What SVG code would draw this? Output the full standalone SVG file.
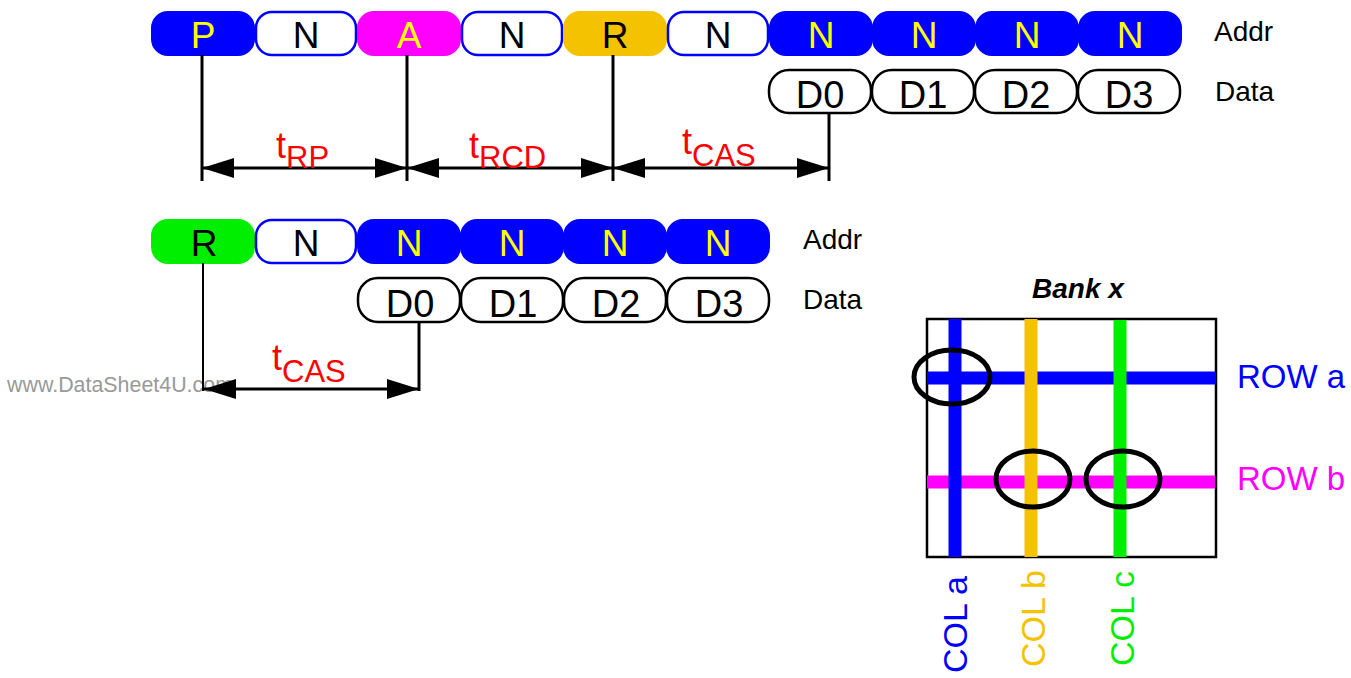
<svg xmlns="http://www.w3.org/2000/svg" width="1351" height="678" viewBox="0 0 1351 678">
<defs>
<style>
text{font-family:"Liberation Sans",Arial,sans-serif}
.pb{fill:#0000ff;stroke:#0000ff;stroke-width:2}
.pw{fill:#ffffff;stroke:#0000ff;stroke-width:2.5}
.pm{fill:#ff00ff;stroke:#ff00ff;stroke-width:2}
.po{fill:#f5c200;stroke:#f5c200;stroke-width:2}
.pg{fill:#00ee00;stroke:#00ee00;stroke-width:2}
.pd{fill:#ffffff;stroke:#000000;stroke-width:2.5}
.ta{font-size:37px;text-anchor:middle}
.td{font-size:38px;text-anchor:middle;fill:#000}
.y{fill:#ffff00}
.k{fill:#000000}
.lbl{font-size:28px;fill:#000}
.tl{fill:#ff0000;font-size:36px}
.sub{font-size:31px}
.ln{stroke:#000;stroke-width:3;fill:none}
.ar{stroke:#000;stroke-width:3;fill:none;marker-start:url(#ah);marker-end:url(#ah)}
.ell{fill:none;stroke:#000;stroke-width:5}
.col{font-size:34px}
</style>
<marker id="ah" viewBox="0 0 32 20" refX="32" refY="10" markerWidth="32" markerHeight="20" markerUnits="userSpaceOnUse" orient="auto-start-reverse">
<path d="M0,0 L32,10 L0,20 Z" fill="#000"/>
</marker>
</defs>

<text x="7" y="392" font-size="22" fill="#999999" textLength="226" lengthAdjust="spacingAndGlyphs">www.DataSheet4U.com</text>

<!-- Top address row -->
<g id="a1-p"><rect class="pb" x="152" y="12" width="102" height="43" rx="16"/><text class="ta y" x="203" y="48">P</text></g>
<g id="a1-n1"><rect class="pw" x="256" y="12" width="100" height="43" rx="16"/><text class="ta k" x="306" y="48">N</text></g>
<g id="a1-a"><rect class="pm" x="358" y="12" width="102" height="43" rx="16"/><text class="ta y" x="409" y="48">A</text></g>
<g id="a1-n2"><rect class="pw" x="462" y="12" width="100" height="43" rx="16"/><text class="ta k" x="512" y="48">N</text></g>
<g id="a1-r"><rect class="po" x="564" y="12" width="102" height="43" rx="16"/><text class="ta k" x="615" y="48">R</text></g>
<g id="a1-n3"><rect class="pw" x="668" y="12" width="100" height="43" rx="16"/><text class="ta k" x="718" y="48">N</text></g>
<g id="a1-n4"><rect class="pb" x="770" y="12" width="102" height="43" rx="16"/><text class="ta y" x="821" y="48">N</text></g>
<g id="a1-n5"><rect class="pb" x="873" y="12" width="102" height="43" rx="16"/><text class="ta y" x="924" y="48">N</text></g>
<g id="a1-n6"><rect class="pb" x="976" y="12" width="102" height="43" rx="16"/><text class="ta y" x="1027" y="48">N</text></g>
<g id="a1-n7"><rect class="pb" x="1079" y="12" width="102" height="43" rx="16"/><text class="ta y" x="1130" y="48">N</text></g>
<g id="lbl-addr1"><text class="lbl" x="1214" y="41">Addr</text></g>

<!-- Top data row -->
<g id="d1-0"><rect class="pd" x="769" y="70" width="102" height="43" rx="20"/><text class="td" x="820" y="108">D0</text></g>
<g id="d1-1"><rect class="pd" x="872" y="70" width="102" height="43" rx="20"/><text class="td" x="923" y="108">D1</text></g>
<g id="d1-2"><rect class="pd" x="975" y="70" width="102" height="43" rx="20"/><text class="td" x="1026" y="108">D2</text></g>
<g id="d1-3"><rect class="pd" x="1078" y="70" width="102" height="43" rx="20"/><text class="td" x="1129" y="108">D3</text></g>
<g id="lbl-data1"><text class="lbl" x="1215" y="101">Data</text></g>

<!-- Second address row -->
<g id="a2-r"><rect class="pg" x="152" y="220" width="102" height="43" rx="16"/><text class="ta k" x="204" y="256">R</text></g>
<g id="a2-n1"><rect class="pw" x="256" y="220" width="100" height="43" rx="16"/><text class="ta k" x="306" y="256">N</text></g>
<g id="a2-n2"><rect class="pb" x="358" y="220" width="102" height="43" rx="16"/><text class="ta y" x="409" y="256">N</text></g>
<g id="a2-n3"><rect class="pb" x="461" y="220" width="102" height="43" rx="16"/><text class="ta y" x="512" y="256">N</text></g>
<g id="a2-n4"><rect class="pb" x="564" y="220" width="102" height="43" rx="16"/><text class="ta y" x="615" y="256">N</text></g>
<g id="a2-n5"><rect class="pb" x="667" y="220" width="102" height="43" rx="16"/><text class="ta y" x="718" y="256">N</text></g>
<g id="lbl-addr2"><text class="lbl" x="803" y="249">Addr</text></g>

<!-- Second data row -->
<g id="d2-0"><rect class="pd" x="358" y="278" width="102" height="44" rx="20"/><text class="td" x="410" y="317">D0</text></g>
<g id="d2-1"><rect class="pd" x="461" y="278" width="102" height="44" rx="20"/><text class="td" x="513" y="317">D1</text></g>
<g id="d2-2"><rect class="pd" x="564" y="278" width="102" height="44" rx="20"/><text class="td" x="616" y="317">D2</text></g>
<g id="d2-3"><rect class="pd" x="667" y="278" width="102" height="44" rx="20"/><text class="td" x="719" y="317">D3</text></g>
<g id="lbl-data2"><text class="lbl" x="803" y="309">Data</text></g>

<!-- Connectors -->
<g id="connectors">
<line class="ln" x1="202" y1="55" x2="202" y2="181"/>
<line class="ln" x1="407" y1="55" x2="407" y2="181"/>
<line class="ln" x1="613" y1="55" x2="613" y2="181"/>
<line class="ln" x1="829" y1="113" x2="829" y2="181"/>
<line class="ar" x1="202" y1="168" x2="407" y2="168"/>
<line class="ar" x1="407" y1="168" x2="613" y2="168"/>
<line class="ar" x1="613" y1="168" x2="829" y2="168"/>
<line class="ln" x1="203" y1="263" x2="203" y2="391" style="stroke-width:2"/>
<line class="ln" x1="419" y1="322" x2="419" y2="391"/>
<line class="ar" x1="204" y1="389" x2="419" y2="389"/>
</g>

<!-- Timing labels -->
<g id="lbl-trp"><text class="tl" x="276" y="158">t<tspan class="sub" dy="10">RP</tspan></text></g>
<g id="lbl-trcd"><text class="tl" x="469" y="158">t<tspan class="sub" dy="10">RCD</tspan></text></g>
<g id="lbl-tcas1"><text class="tl" x="682" y="154">t<tspan class="sub" dy="12">CAS</tspan></text></g>
<g id="lbl-tcas2"><text class="tl" x="272" y="370">t<tspan class="sub" dy="12">CAS</tspan></text></g>

<!-- Bank -->
<g id="bank">
<text x="1078" y="298" font-size="28" font-weight="bold" font-style="italic" text-anchor="middle">Bank x</text>
<rect x="927" y="319" width="289" height="238" fill="#fff" stroke="#000" stroke-width="2.5"/>
<line x1="927" y1="378" x2="1216" y2="378" stroke="#0000ff" stroke-width="13"/>
<line x1="927" y1="482" x2="1215" y2="482" stroke="#ff00ff" stroke-width="13"/>
<line x1="955" y1="319" x2="955" y2="557" stroke="#0000ff" stroke-width="13"/>
<line x1="1031" y1="319" x2="1031" y2="557" stroke="#f5c200" stroke-width="13"/>
<line x1="1120" y1="320" x2="1120" y2="557" stroke="#00ee00" stroke-width="13"/>
<ellipse class="ell" cx="952" cy="377" rx="38" ry="27"/>
<ellipse class="ell" cx="1033" cy="479" rx="37" ry="28"/>
<ellipse class="ell" cx="1123" cy="479" rx="37" ry="28"/>
<text x="1237" y="388" font-size="33" fill="#0000ff">ROW a</text>
<text x="1237" y="490" font-size="33" fill="#ff00ff">ROW b</text>
<text class="col" transform="translate(967,576) rotate(-90)" text-anchor="end" fill="#0000ff">COL a</text>
<text class="col" transform="translate(1045,570) rotate(-90)" text-anchor="end" fill="#f5c200">COL b</text>
<text class="col" transform="translate(1134,571) rotate(-90)" text-anchor="end" fill="#00ee00">COL c</text>
</g>
</svg>
